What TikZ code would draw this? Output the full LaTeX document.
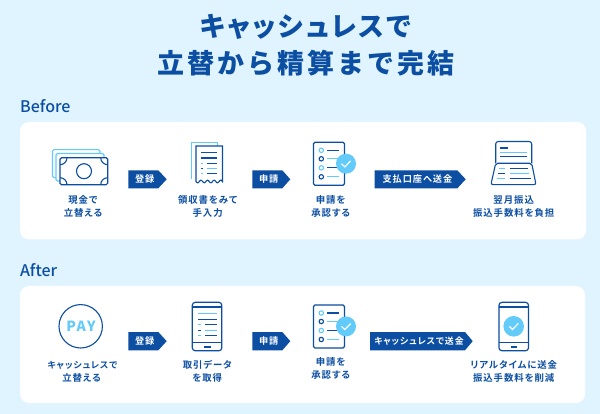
\documentclass[tikz,border=0pt]{standalone}
\usepackage{fontspec}
\newfontfamily\jpb[LetterSpace=10,RawFeature={+palt}]{Noto Sans CJK JP Black}
\newfontfamily\jpw[LetterSpace=11]{Noto Sans CJK JP Black}
\newfontfamily\jpl[LetterSpace=10,RawFeature={+palt}]{Noto Sans CJK JP Bold}
\newfontfamily\lat{Noto Sans CJK JP Medium}
\definecolor{bgblue}{HTML}{DFF4FF}
\definecolor{navy}{HTML}{0B4EA2}
\definecolor{sky}{HTML}{62CBFA}
\tikzset{
  x=1pt,y=-1pt,
  panel/.style={fill=white,rounded corners=9pt,draw=none},
  heading/.style={text=navy,font=\jpb\fontsize{27}{27}\selectfont,inner sep=0pt,anchor=center},
  headingw/.style={text=navy,font=\jpw\fontsize{27}{27}\selectfont,inner sep=0pt,anchor=center},
  sect/.style={text=navy,font=\lat\fontsize{16}{16}\selectfont,inner sep=0pt,anchor=west},
  captext/.style={text=navy,font=\jpl\fontsize{9.4}{9.4}\selectfont,inner sep=0pt,anchor=center},
  tagtext/.style={text=white,font=\jpl\fontsize{9.2}{9.2}\selectfont,inner sep=0pt,anchor=center},
  dk/.style={draw=navy,line width=1.1pt},
  lt/.style={draw=sky,line width=1.1pt},
  thick1/.style={draw=navy,line width=1.2pt,rounded corners=1.5pt},
  light1/.style={draw=sky,line width=1.1pt,rounded corners=1.5pt},
}
% tag: name, x0, body end x, tip x, y top, y bottom, text
\newcommand{\tagshape}[7]{%
  \fill[navy] (#2,#5) -- (#3,#5) -- (#4,{(#5+#6)/2}) -- (#3,#6) -- (#2,#6) -- cycle;
  \node[tagtext] (#1) at ({(#2+#3)/2+1.4},{(#5+#6)/2}) {#7};
}
% checklist at y offset
\newcommand{\listicon}[1]{%
  \begin{scope}[yshift=-#1pt]
    \draw[thick1,fill=white] (313.5,0) rectangle (344.5,43);
    \draw[lt,fill=white] (321.3,8) circle (2.2);
    \draw[dk,fill=white] (321.3,16.5) circle (2.2);
    \draw[lt,fill=white] (321.3,25.5) circle (2.2);
    \draw[dk,fill=white] (321.3,34.5) circle (2.2);
    \draw[dk] (327.3,8) -- (339,8);
    \draw[lt] (327.3,16.5) -- (339,16.5);
    \draw[dk] (327.3,25.5) -- (339,25.5);
    \draw[lt] (327.3,34.5) -- (339,34.5);
    \fill[sky] (346,21.4) circle (10);
    \draw[white,line width=1.2pt] (341.5,21.4) -- (344.8,24.6) -- (350.6,18.6);
  \end{scope}
}
% phone outline at x offset
\newcommand{\phoneicon}[1]{%
  \begin{scope}[xshift=#1pt]
    \draw[navy,line width=1.2pt,rounded corners=3pt,fill=white] (192.3,302.3) rectangle (221.8,350.8);
    \draw[dk] (192.3,307) -- (221.8,307);
    \draw[dk] (192.3,342.5) -- (221.8,342.5);
    \draw[navy,line width=1.1pt] (204,347) -- (210.7,347);
  \end{scope}
}
\begin{document}
\begin{tikzpicture}
\useasboundingbox (0,0) rectangle (600,414);
\fill[bgblue] (0,0) rectangle (600,414);
\node[heading] (t1) at (305.5,26.5) {キャッシュレスで};
\node[headingw] (t2) at (306,63.3) {立替から精算まで完結};
\node[sect] (before) at (20,106.3) {Before};
\node[sect] (after) at (20,270) {After};
\path[panel] (20,122) rectangle (586,239.5);
\path[panel] (20,286) rectangle (585,403);

% money
\draw[light1] (52.5,149.7) rectangle (100,177.7);
\draw[light1,fill=white] (56,153.5) rectangle (104,181);
\draw[thick1,fill=white] (60,157.7) rectangle (107.7,184.7);
\draw[navy,line width=1.1pt] (84,171.2) circle (7.5);
\begin{scope}
  \clip (60,157.7) rectangle (107.7,184.7);
  \draw[navy,line width=1.1pt] (60,157.7) circle (7);
  \draw[navy,line width=1.1pt] (107.7,157.7) circle (7);
  \draw[navy,line width=1.1pt] (60,184.7) circle (7);
  \draw[navy,line width=1.1pt] (107.7,184.7) circle (7);
\end{scope}
\node[captext] (c1a) at (83,200.3) {現金で};
\node[captext] (c1b) at (83,213.3) {立替える};

% receipt
\draw[lt,fill=white] (191.5,179) -- (191.5,142.5) -- (217.3,142.5) -- (217.3,146);
\draw[navy,line width=1.1pt,fill=white] (196,181.5) -- (196,146) -- (222.5,146) -- (222.5,181.5)
  -- plot[domain=222.5:196,samples=40,smooth] (\x,{181.5+1.3*sin(3.1416*(\x-196)/3.3 r)}) -- cycle;
\draw[dk] (201,152.7) -- (217,152.7);
\draw[dk] (201,158) -- (217,158);
\draw[lt] (201,163.2) -- (203.3,163.2); \draw[dk] (206.5,163.2) -- (217,163.2);
\draw[dk] (201,168.4) -- (203.3,168.4); \draw[lt] (206.5,168.4) -- (217,168.4);
\draw[lt] (201,173.4) -- (203.3,173.4); \draw[dk] (206.5,173.4) -- (217,173.4);
\node[captext] (c2a) at (207.7,200.3) {領収書をみて};
\node[captext] (c2b) at (207.7,213.3) {手入力};

\tagshape{a1}{128.3}{158.3}{166.7}{170.3}{188.3}{登録}
\tagshape{a2}{252.3}{282.3}{290.3}{170.3}{188.3}{申請}
\tagshape{a3}{374.7}{457.3}{465.7}{170.3}{188.3}{支払口座へ送金}

\listicon{142.3}
\node[captext] (c3a) at (330.7,200.3) {申請を};
\node[captext] (c3b) at (330.7,213.3) {承認する};

% ledger
\draw[navy,line width=1.1pt,rounded corners=2.5pt] (495.7,163.3) -- (495.7,141.5) -- (531.7,141.5) -- (531.7,163.3);
\draw[navy,line width=1.1pt,rounded corners=2pt] (495.7,163.3) -- (490.9,184.6) -- (536,184.6) -- (531.7,163.3) -- cycle;
\draw[dk] (500,148) -- (508.3,148);
\draw[lt] (500,152.4) -- (527.3,152.4);
\draw[dk] (500,156.7) -- (527.3,156.7);
\draw[lt] (499,168.3) -- (505.3,168.3); \draw[dk] (510,168.3) -- (528.3,168.3);
\draw[dk] (498.3,173.3) -- (505.3,173.3); \draw[lt] (510,173.3) -- (529.3,173.3);
\draw[lt] (497.3,178.4) -- (505.3,178.4); \draw[dk] (510,178.4) -- (530.7,178.4);
\node[captext] (c4a) at (513.7,200.3) {翌月振込};
\node[captext] (c4b) at (513.7,213.3) {振込手数料を負担};

% After
\draw[navy,line width=1.1pt] (80.7,326.3) circle (21.7);
\node[text=sky,font=\jpb\fontsize{14}{14}\selectfont,inner sep=0pt] (pay) at (81,326.5) {PAY};
\node[captext,font=\jpl\fontsize{8.9}{8.9}\selectfont] (d1a) at (82.5,365) {キャッシュレスで};
\node[captext] (d1b) at (81.5,378.3) {立替える};

\phoneicon{0}
\draw[lt] (198.3,313.8) -- (216.7,313.8);
\draw[dk] (198.3,319.2) -- (216.7,319.2);
\draw[lt] (198.3,324.8) -- (201,324.8); \draw[dk] (205,324.8) -- (216.7,324.8);
\draw[dk] (198.3,330.3) -- (201,330.3); \draw[lt] (205,330.3) -- (216.7,330.3);
\draw[lt] (198.3,335.8) -- (201,335.8); \draw[dk] (205,335.8) -- (216.7,335.8);
\node[captext] (d2a) at (207.3,365) {取引データ};
\node[captext] (d2b) at (207.3,378.3) {を取得};

\tagshape{b1}{128.3}{158.3}{166.7}{332}{350.3}{登録}
\tagshape{b2}{252.3}{282.3}{290.3}{332}{350.3}{申請}
\tagshape{b3}{370}{465}{472.7}{332}{350.3}{\fontsize{8.9}{8.9}\selectfont キャッシュレスで送金}

\listicon{305}
\node[captext] (d3a) at (330.7,362.3) {申請を};
\node[captext] (d3b) at (330.7,375.3) {承認する};

\phoneicon{306.7}
\fill[sky] (513.7,326.3) circle (10.3);
\draw[white,line width=1.2pt] (509.2,326.3) -- (512.5,329.5) -- (518.3,323.5);
\node[captext] (d4a) at (513.7,365) {リアルタイムに送金};
\node[captext] (d4b) at (513.7,378.3) {振込手数料を削減};
\end{tikzpicture}
\end{document}
